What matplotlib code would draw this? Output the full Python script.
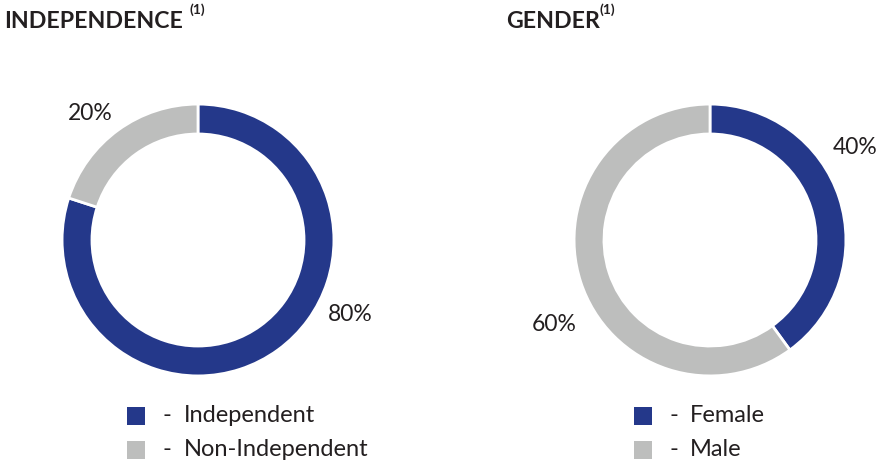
import matplotlib
matplotlib.use("Agg")
import matplotlib.pyplot as plt
from matplotlib.patches import Rectangle

plt.rcParams['font.family'] = ['Lato', 'DejaVu Sans']

# Data
titles = ["INDEPENDENCE", "GENDER"]
indep_labels = ["Independent", "Non-Independent"]
indep_values = [80, 20]
gender_labels = ["Female", "Male"]
gender_values = [40, 60]
colors = ["#24388a", "#bdbebd"]
text_color = "#231f20"

W, H = 880, 472
fig = plt.figure(figsize=(W / 100, H / 100), dpi=100)

def px_ax(cx, cy, size):
    return fig.add_axes([(cx - size / 2) / W, (H - cy - size / 2) / H, size / W, size / H])

charts = [
    dict(values=indep_values, labels=indep_labels, cx=198, cy=240,
         label_pos=[(1.12, -0.55), (-0.79, 0.93)], title_x=4, sup_x=189,
         leg_x=127, dash_x=162, text_x=184),
    dict(values=gender_values, labels=gender_labels, cx=710, cy=240,
         label_pos=[(1.07, 0.68), (-1.15, -0.62)], title_x=506, sup_x=599,
         leg_x=634, dash_x=669, text_x=690),
]

for i, c in enumerate(charts):
    ax = px_ax(c["cx"], c["cy"], 280)
    ax.pie(c["values"], colors=colors, startangle=90, counterclock=False,
           radius=1.0, wedgeprops=dict(width=0.22, edgecolor="white", linewidth=2))
    ax.set_xlim(-1.03, 1.03)
    ax.set_ylim(-1.03, 1.03)
    ax.set_aspect("equal")
    ax.axis("off")
    for v, (lx, ly) in zip(c["values"], c["label_pos"]):
        ax.text(lx, ly, f"{v}%", ha="center", va="center", fontsize=16.5,
                color=text_color, clip_on=False)

    fig.text(c["title_x"] / W, 1 - 21 / H, titles[i], ha="left", va="center",
             fontsize=16.7, fontweight="bold", color=text_color)
    fig.text(c["sup_x"] / W, 1 - 10 / H, "(1)", ha="left", va="center",
             fontsize=10, fontweight="bold", color=text_color)

    for j, lab in enumerate(c["labels"]):
        y_top = 407 + j * 34
        fig.patches.append(Rectangle((c["leg_x"] / W, 1 - (y_top + 18) / H), 18 / W, 18 / H,
                                     transform=fig.transFigure, facecolor=colors[j],
                                     edgecolor="none"))
        fig.text(c["dash_x"] / W, 1 - (y_top + 9) / H, "-", ha="left",
                 va="center", fontsize=17, color=text_color)
        fig.text(c["text_x"] / W, 1 - (y_top + 9) / H, lab, ha="left",
                 va="center", fontsize=17, color=text_color)

fig.savefig("out.png", dpi=100, facecolor="white")
